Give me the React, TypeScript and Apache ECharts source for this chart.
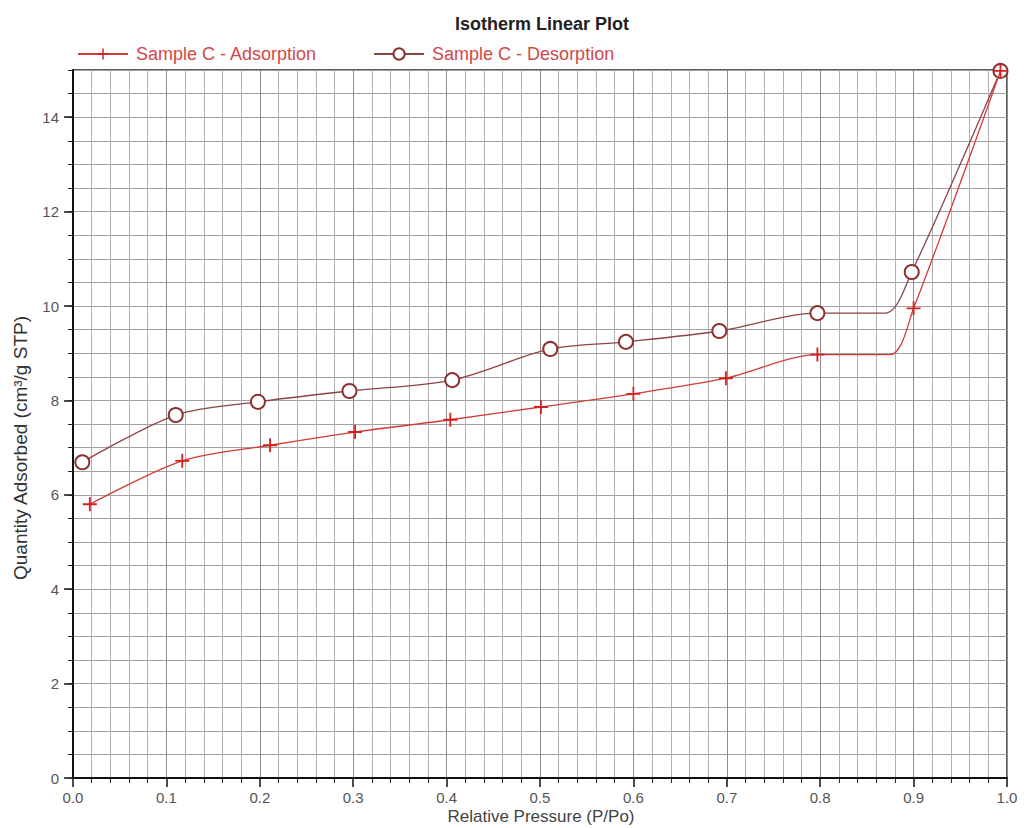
import React, { useEffect, useRef } from "react";
import * as echarts from "echarts";

// Relative pressure (P/Po) and quantity adsorbed (cm³/g STP)
const adsP = [0.018, 0.117, 0.211, 0.302, 0.404, 0.501, 0.6, 0.699, 0.797, 0.9, 0.993];
const adsQ = [5.8, 6.72, 7.05, 7.33, 7.59, 7.86, 8.14, 8.47, 8.97, 9.95, 14.98];
const desP = [0.01, 0.11, 0.198, 0.296, 0.406, 0.511, 0.592, 0.692, 0.797, 0.898, 0.993];
const desQ = [6.69, 7.69, 7.97, 8.2, 8.43, 9.09, 9.24, 9.47, 9.85, 10.72, 14.98];
// end of the flat stretch of each drawn curve
const adsKnot = [0.875, 8.97];
const desKnot = [0.87, 9.85];
const knotAfter = 8;

const xTicks = ["0.0", "0.1", "0.2", "0.3", "0.4", "0.5", "0.6", "0.7", "0.8", "0.9", "1.0"];

const ADS_COLOR = "#d42020";
const ADS_LINE = "#d43a3a";
const DES_COLOR = "#8e3030";
const DES_LINE = "#8e4444";
const PLUS = "path://M4.35,0H5.65V4.35H10V5.65H5.65V10H4.35V5.65H0V4.35H4.35Z";

function build(p: number[], q: number[], knot: number[]) {
  const out: any[] = [];
  p.forEach((x, i) => {
    out.push([x, q[i]]);
    if (i === knotAfter) out.push({ value: knot, symbol: "none" });
  });
  return out;
}

export default function App() {
  const ref = useRef<HTMLDivElement>(null);
  useEffect(() => {
    const chart = echarts.init(ref.current!, null, { renderer: "svg" });
    const font = "'Liberation Sans', Arial, sans-serif";
    chart.setOption({
      animation: false,
      backgroundColor: "#ffffff",
      textStyle: { fontFamily: font },
      title: {
        text: "Isotherm Linear Plot",
        left: 537,
        textAlign: "center",
        top: 10,
        textStyle: { fontSize: 18, fontWeight: "bold", color: "#222", fontFamily: font },
      },
      legend: {
        left: 72,
        top: 40,
        itemWidth: 50,
        itemHeight: 14,
        itemGap: 56,
        textStyle: { fontSize: 18, color: "#d04848", fontFamily: font, padding: [0, 0, 0, 3] },
        data: ["Sample C - Adsorption", "Sample C - Desorption"],
      },
      graphic: [
        {
          type: "text",
          x: 20,
          y: 448,
          rotation: Math.PI / 2,
          style: {
            text: "Quantity Adsorbed (cm³/g STP)",
            fontSize: 19,
            fontFamily: font,
            fill: "#333",
            textAlign: "center",
            textVerticalAlign: "middle",
          },
        },
        {
          type: "text",
          x: 541,
          y: 816,
          style: {
            text: "Relative Pressure (P/Po)",
            fontSize: 17,
            fontFamily: font,
            fill: "#444",
            textAlign: "center",
            textVerticalAlign: "middle",
          },
        },
      ],
      grid: {
        left: 73,
        right: 18,
        top: 70,
        bottom: 50,
        containLabel: false,
        outerBoundsMode: "none",
        show: true,
        borderColor: "#222",
        borderWidth: 1.5,
      },
      xAxis: {
        type: "value",
        min: 0,
        max: 1,
        interval: 0.1,
        axisLine: { show: true, lineStyle: { color: "#111", width: 2 } },
        axisTick: { show: true, length: 9, lineStyle: { color: "#111", width: 1.5 } },
        minorTick: { show: true, splitNumber: 5, length: 5, lineStyle: { color: "#222", width: 1 } },
        splitLine: { show: true, lineStyle: { color: "#8c8c8c", width: 1 } },
        minorSplitLine: { show: true, lineStyle: { color: "#b0b0b0", width: 1 } },
        axisLabel: {
          fontSize: 15,
          color: "#555",
          margin: 12,
          fontFamily: font,
          formatter: (v: number) => xTicks[Math.round(v * 10)] ?? "",
        },
      },
      yAxis: [
        {
          type: "value",
          min: 0,
          max: 15,
          interval: 2,
          axisLine: { show: true, lineStyle: { color: "#111", width: 2 } },
          axisTick: { show: true, length: 9, lineStyle: { color: "#111", width: 1.5 } },
          splitLine: { show: false },
          axisLabel: { fontSize: 15, color: "#555", margin: 14, showMaxLabel: false, fontFamily: font },
        },
        {
          type: "value",
          min: 0,
          max: 15,
          interval: 0.5,
          position: "left",
          offset: 0,
          axisLine: { show: false },
          axisTick: { show: true, length: 5, lineStyle: { color: "#222", width: 1 } },
          splitLine: { show: true, lineStyle: { color: "#a0a0a0", width: 1 } },
          axisLabel: { show: false },
        },
      ],
      series: [
        {
          name: "Sample C - Adsorption",
          type: "line",
          yAxisIndex: 0,
          data: build(adsP, adsQ, adsKnot),
          smooth: 0.3,
          symbol: PLUS,
          symbolSize: 14,
          lineStyle: { color: ADS_LINE, width: 1.3 },
          itemStyle: { color: ADS_COLOR, borderWidth: 0 },
          z: 5,
        },
        {
          name: "Sample C - Desorption",
          type: "line",
          yAxisIndex: 0,
          data: build(desP, desQ, desKnot),
          smooth: 0.3,
          symbol: "emptyCircle",
          symbolSize: 14,
          showAllSymbol: true,
          lineStyle: { color: DES_LINE, width: 1.3 },
          itemStyle: { color: DES_COLOR, borderColor: DES_COLOR, borderWidth: 1 },
          z: 4,
        },
      ],
    });
    return () => chart.dispose();
  }, []);
  return (
    <div
      ref={ref}
      style={{ position: "fixed", left: 0, top: 0, width: 1025, height: 828, background: "#fff" }}
    />
  );
}
